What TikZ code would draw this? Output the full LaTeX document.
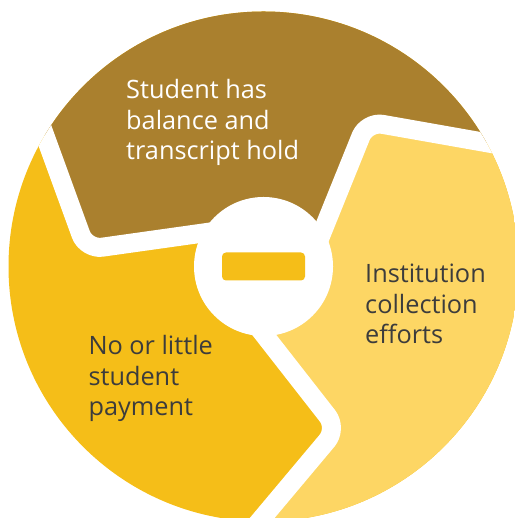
\documentclass[tikz,border=0pt]{standalone}
\usepackage{fontspec}
\setmainfont{Open Sans}
\usetikzlibrary{calc}
\definecolor{holdbrown}{HTML}{AA802E}
\definecolor{paygold}{HTML}{F5BE18}
\definecolor{effortyellow}{HTML}{FDD664}
\definecolor{textgray}{HTML}{3C3C3C}
\begin{document}
\begin{tikzpicture}[x=1pt, y=1pt, font=\fontsize{25.3}{30.6}\selectfont, line join=round,
		gap/.style={white, line width=19pt, rounded corners=16pt},
		stagetext/.style={anchor=base west, align=left, inner sep=0pt, textgray}]
	\useasboundingbox (0,0) rectangle (514,518);
	\coordinate (C) at (263.5,251.5);
	\foreach \n/\a in {a/174.5, b/54.5, c/-65.5}{
		\coordinate (k\n) at ($(C)+(\a:178)$);
		\coordinate (p\n) at ($(k\n)+(\a-166.5:173)$);
		\coordinate (o\n) at ($(k\n)+(\a-64.5:160)$);
		\coordinate (f\n) at ($(C)+(\a-84.5:500)$);
	}
	\begin{scope}
		\clip (C) circle (255);
		\fill[paygold] (C) circle (260);
		\fill[holdbrown] (C)--(pa)--(ka)--(oa)--(fa)--(ob)--(kb)--(pb)--cycle;
		\fill[effortyellow] (C)--(pb)--(kb)--(ob)--(fb)--(oc)--(kc)--(pc)--cycle;
		\foreach \n in {a,b,c} \draw[gap] (p\n)--(k\n)--(o\n);
	\end{scope}
	\fill[white] (C) circle (69.5);
	\fill[paygold, rounded corners=4pt] ($(C)+(-41.5,-14)$) rectangle ($(C)+(41.5,14)$);
	\node[stagetext, white] (hold) at (126,358) {Student has\\balance and\\transcript hold};
	\node[stagetext] (effort) at (365,174) {Institution\\collection\\efforts};
	\node[stagetext] (pay) at (88.3,102) {No or little\\student\\payment};
\end{tikzpicture}
\end{document}
